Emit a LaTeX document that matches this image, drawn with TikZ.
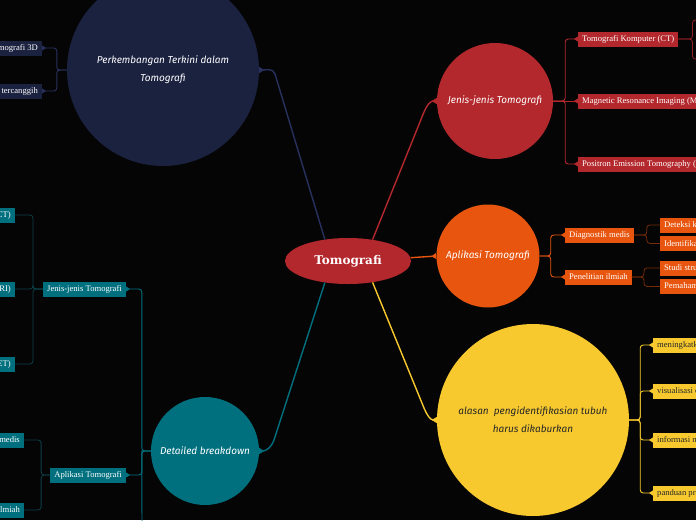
\documentclass[tikz,border=0pt]{standalone}
\usepackage{fontspec}
\setmainfont{Liberation Serif}
\newfontfamily\handfont{Fira Sans}
\newfontfamily\slabfont{DejaVu Serif}
\usetikzlibrary{arrows.meta, positioning, shapes.geometric}
\definecolor{bgdark}{HTML}{050505}
\definecolor{rubyred}{HTML}{B3282D}
\definecolor{navy}{HTML}{1B2240}
\definecolor{navyline}{HTML}{28315E}
\definecolor{flame}{HTML}{E8550E}
\definecolor{sun}{HTML}{F7C92F}
\definecolor{petrol}{HTML}{00707F}
\definecolor{petroldark}{HTML}{0B3F48}
\tikzset{
  topic/.style={circle, minimum size=#1, inner sep=0pt, align=center,
    font=\handfont\itshape\fontsize{10}{18}\selectfont, text=white},
  subbox/.style={rectangle, minimum height=15pt, inner xsep=4pt, inner ysep=0pt,
    font=\fontsize{8.6}{10}\selectfont, text=white},
  branch/.style={line width=1.4pt, -{Triangle[reversed, length=5pt, width=6pt]}},
  twig/.style={line width=0.9pt, rounded corners=3pt, -{Triangle[reversed, length=4pt, width=5pt]}},
  leaf/.style={line width=0.8pt, rounded corners=3pt},
}

\begin{document}
\begin{tikzpicture}[x=1pt, y=-1pt]
\useasboundingbox (0,0) rectangle (696,520);
\fill[bgdark] (0,0) rectangle (696,520);
\clip (0,0) rectangle (696,520);

% centre and main topics
\node[ellipse, fill=rubyred, minimum width=126pt, minimum height=46pt, text=white,
  font=\slabfont\bfseries\fontsize{12}{14}\selectfont] (tomo) at (348,261) {Tomografi};
\node[topic=192pt, fill=navy] (perk) at (163,70) {Perkembangan Terkini dalam\\Tomografi};
\node[topic=116pt, fill=rubyred] (jenis) at (495,101) {Jenis-jenis Tomografi};
\node[topic=103pt, fill=flame] (aplik) at (488,256) {Aplikasi Tomografi};
\node[topic=192pt, fill=sun, text=black!85] (alasan) at (533,420) {alasan~ pengidentifikasian tubuh\\harus dikaburkan};
\node[topic=108pt, fill=petrol] (detail) at (205,451) {Detailed breakdown};

\draw[branch, navyline] (tomo.137) -- (275,74) to[out=107, in=0] (perk.east);
\draw[branch, rubyred] (tomo.41) -- (424,112) to[out=68, in=180] (jenis.west);
\draw[branch, flame] (tomo.3) -- (aplik.west);
\draw[branch, sun] (tomo.-41) -- (424,408) to[out=-67, in=180] (alasan.west);
\draw[branch, petrol] (tomo.-137) -- (274,440) to[out=-108, in=0] (detail.east);

% Perkembangan
\node[subbox, fill=navy, anchor=east] (tiga) at (42,48) {Tomografi 3D};
\node[subbox, fill=navy, anchor=east] (canggih) at (42,91) {Teknologi tercanggih};
\draw[twig, navyline] (perk.west) -- ++(-10,0) |- (tiga.east);
\draw[twig, navyline] (perk.west) -- ++(-10,0) |- (canggih.east);

% Jenis-jenis
\node[subbox, fill=rubyred, anchor=west] (ct) at (578,39) {Tomografi Komputer (CT)};
\node[subbox, fill=rubyred, anchor=west] (mri) at (578,101) {Magnetic Resonance Imaging (MRI)};
\node[subbox, fill=rubyred, anchor=west] (pet) at (578,164) {Positron Emission Tomography (PET)};
\draw[twig, rubyred] (jenis.east) -- ++(12,0) |- (ct.west);
\draw[twig, rubyred] (jenis.east) -- (mri.west);
\draw[twig, rubyred] (jenis.east) -- ++(12,0) |- (pet.west);
\coordinate (ctA) at (712,20);
\coordinate (ctB) at (712,59);
\draw[leaf, rubyred!80!black] (ct.east) -- ++(14,0) |- (ctA);
\draw[leaf, rubyred!80!black] (ct.east) -- ++(14,0) |- (ctB);

% Aplikasi
\node[subbox, fill=flame, anchor=west] (diag) at (565,235) {Diagnostik medis};
\node[subbox, fill=flame, anchor=west] (riset) at (565,277) {Penelitian ilmiah};
\node[subbox, fill=flame, anchor=west] (deteksi) at (660,225) {Deteksi kelainan};
\node[subbox, fill=flame, below=3pt of deteksi.south west, anchor=north west] (identif) {Identifikasi cedera};
\node[subbox, fill=flame, anchor=west] (studi) at (660,268) {Studi struktur tubuh};
\node[subbox, fill=flame, below=3pt of studi.south west, anchor=north west] (paham) {Pemahaman penyakit};
\draw[twig, flame] (aplik.east) -- ++(11,0) |- (diag.west);
\draw[twig, flame] (aplik.east) -- ++(11,0) |- (riset.west);
\draw[leaf, flame!50!black] (diag.east) -- ++(13,0) |- (deteksi.west);
\draw[leaf, flame!50!black] (diag.east) -- ++(13,0) |- (identif.west);
\draw[leaf, flame!50!black] (riset.east) -- ++(12,0) |- (studi.west);
\draw[leaf, flame!50!black] (riset.east) -- ++(12,0) |- (paham.west);

% alasan
\node[subbox, fill=sun, text=black!85, anchor=west] (ningkat) at (653,345) {meningkatkan privasi};
\node[subbox, fill=sun, text=black!85, anchor=west] (visual) at (653,391) {visualisasi organ};
\node[subbox, fill=sun, text=black!85, anchor=west] (info) at (653,440) {informasi medis};
\node[subbox, fill=sun, text=black!85, anchor=west] (panduan) at (653,493) {panduan prosedur};
\foreach \n in {ningkat, visual, info, panduan}
  \draw[twig, sun] (alasan.east) -- ++(11,0) |- (\n.west);

% Detailed breakdown
\node[subbox, fill=petrol, anchor=east] (tjenis) at (126,289) {Jenis-jenis Tomografi};
\node[subbox, fill=petrol, anchor=east] (tapl) at (126,475) {Aplikasi Tomografi};
\coordinate (tmore) at (142,535);
\draw[twig, petrol] (detail.west) -- ++(-9,0) |- (tjenis.east);
\draw[twig, petrol] (detail.west) -- ++(-9,0) |- (tapl.east);
\draw[line width=0.9pt, petrol] (detail.west) -- ++(-9,0) -- (tmore);

\node[subbox, fill=petrol, anchor=east] (tct) at (15,215) {Tomografi Komputer (CT)};
\node[subbox, fill=petrol, anchor=east] (tmri) at (15,289) {Magnetic Resonance Imaging (MRI)};
\node[subbox, fill=petrol, anchor=east] (tpet) at (15,364) {Positron Emission Tomography (PET)};
\foreach \n in {tct, tmri, tpet}
  \draw[leaf, petroldark] (tjenis.west) -- ++(-10,0) |- (\n.east);

\node[subbox, fill=petrol, anchor=east] (tdiag) at (24,440) {Diagnostik medis};
\node[subbox, fill=petrol, anchor=east] (triset) at (24,510) {Penelitian ilmiah};
\draw[leaf, petroldark] (tapl.west) -- ++(-9,0) |- (tdiag.east);
\draw[leaf, petroldark] (tapl.west) -- ++(-9,0) |- (triset.east);
\end{tikzpicture}
\end{document}
